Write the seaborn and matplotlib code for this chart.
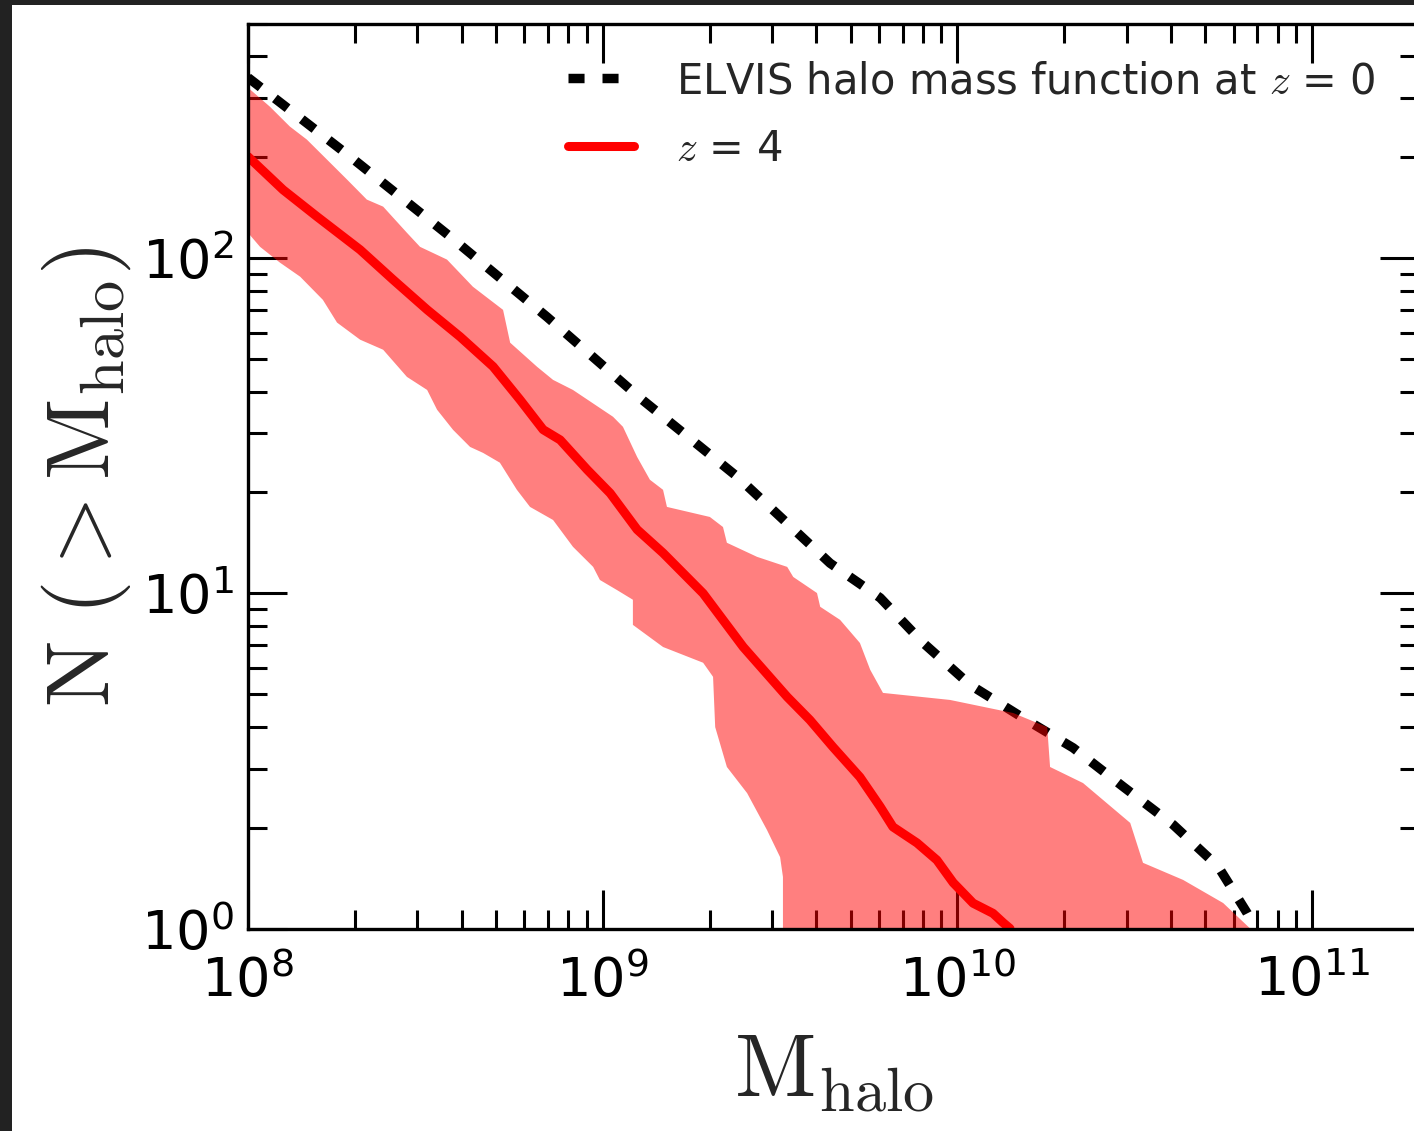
import numpy as np
import pandas as pd
import matplotlib
matplotlib.use("Agg")
import matplotlib.pyplot as plt
from matplotlib.patches import Rectangle
import seaborn as sns

# ELVIS cumulative halo mass function at z = 0 (log10 halo mass, N(>M))
elvis_logm = [8.000, 8.288, 8.570, 8.843, 9.105, 9.379, 9.641, 9.782, 9.903,
              10.036, 10.185, 10.326, 10.467, 10.608, 10.735, 10.817, 10.839]
elvis_n = [346, 201, 116, 66.8, 38.3, 22.3, 12.3, 9.70, 7.12,
           5.33, 4.25, 3.46, 2.65, 2.04, 1.53, 1.11, 1.00]

# z = 4 median
z4_logm = [8.000, 8.099, 8.195, 8.316, 8.409, 8.505, 8.598, 8.691, 8.767, 8.832,
           8.880, 8.956, 9.021, 9.097, 9.170, 9.283, 9.396, 9.520, 9.584, 9.649,
           9.725, 9.782, 9.818, 9.886, 9.942, 9.988, 10.044, 10.100, 10.129, 10.148]
z4_n = [201, 160, 133, 106, 86.3, 70.2, 58.3, 47.5, 37.8, 30.8,
        28.7, 23.4, 19.9, 15.5, 13.2, 10.0, 6.92, 4.91, 4.19, 3.48,
        2.83, 2.31, 2.01, 1.80, 1.60, 1.37, 1.19, 1.11, 1.04, 1.00]

# z = 4 scatter: upper envelope
upper_logm = [8.000, 8.062, 8.118, 8.166, 8.223, 8.279, 8.335, 8.381, 8.448, 8.485,
              8.561, 8.634, 8.682, 8.719, 8.739, 8.815, 8.860, 8.916, 9.029, 9.057,
              9.097, 9.133, 9.170, 9.181, 9.302, 9.339, 9.350, 9.435, 9.520, 9.537,
              9.604, 9.613, 9.669, 9.725, 9.754, 9.790, 9.979, 10.157, 10.253, 10.261,
              10.354, 10.487, 10.523, 10.636, 10.749, 10.825]
upper_logn = [2.509, 2.452, 2.393, 2.354, 2.294, 2.235, 2.175, 2.154, 2.076, 2.034,
              1.996, 1.915, 1.876, 1.846, 1.748, 1.676, 1.637, 1.607, 1.527, 1.497,
              1.407, 1.339, 1.309, 1.258, 1.228, 1.198, 1.151, 1.109, 1.079, 1.049,
              1.001, 0.960, 0.921, 0.852, 0.772, 0.703, 0.682, 0.643, 0.601, 0.482,
              0.434, 0.315, 0.196, 0.145, 0.076, 0.000]

# z = 4 scatter: lower envelope
lower_logm = [8.000, 8.034, 8.090, 8.147, 8.211, 8.251, 8.316, 8.381, 8.448, 8.505,
              8.533, 8.578, 8.626, 8.663, 8.710, 8.758, 8.795, 8.860, 8.916, 8.973,
              8.992, 9.040, 9.085, 9.085, 9.170, 9.283, 9.311, 9.317, 9.350, 9.407,
              9.463, 9.500, 9.508, 9.508]
lower_logn = [2.076, 2.034, 1.987, 1.945, 1.876, 1.808, 1.757, 1.727, 1.646, 1.607,
              1.548, 1.488, 1.437, 1.419, 1.390, 1.309, 1.258, 1.219, 1.139, 1.079,
              1.040, 1.010, 0.981, 0.906, 0.840, 0.793, 0.751, 0.601, 0.482, 0.404,
              0.294, 0.213, 0.154, 0.000]

sns.set_style("ticks")
plt.rcParams["font.family"] = ["DejaVu Sans"]
plt.rcParams["mathtext.fontset"] = "cm"

fig = plt.figure(figsize=(14.14, 11.31), dpi=100, facecolor="white")
ax = fig.add_axes([248 / 1414, 1 - 928.5 / 1131, (1419 - 248) / 1414, (928.5 - 24) / 1131])
ax.set_xscale("log")
ax.set_yscale("log")

# Dark frame along the left and top edges
fig.patches.append(Rectangle((0, 0), 12 / 1414, 1, transform=fig.transFigure,
                             facecolor="#222222", edgecolor="none", zorder=10))
fig.patches.append(Rectangle((0, 1 - 5 / 1131), 1, 5 / 1131, transform=fig.transFigure,
                             facecolor="#222222", edgecolor="none", zorder=10))

elvis = pd.DataFrame({"mass": 10 ** np.array(elvis_logm), "n": elvis_n})
z4 = pd.DataFrame({"mass": 10 ** np.array(z4_logm), "n": z4_n})

sns.lineplot(data=elvis, x="mass", y="n", ax=ax, color="black", lw=6.8,
             estimator=None, sort=False, zorder=2,
             linestyle=(0, (1.7, 1.9)), dash_capstyle="butt",
             label=r"ELVIS halo mass function at $z$ = 0")

poly_m = np.concatenate([10 ** np.array(upper_logm), 10 ** np.array(lower_logm)[::-1]])
poly_n = np.concatenate([10 ** np.array(upper_logn), 10 ** np.array(lower_logn)[::-1]])
ax.fill(poly_m, poly_n, color="red", alpha=0.5, lw=0, zorder=2.2)

sns.lineplot(data=z4, x="mass", y="n", ax=ax, color="red", lw=6.5,
             estimator=None, sort=False, zorder=3, label=r"$z$ = 4")

ax.set_xlim(1e8, 2e11)
ax.set_ylim(1, 500)

for side in ["top", "right", "bottom", "left"]:
    ax.spines[side].set_visible(True)
    ax.spines[side].set_linewidth(2.4)
    ax.spines[side].set_color("black")
    ax.spines[side].set_zorder(4)

ax.tick_params(which="both", direction="in", top=True, right=True, colors="black")
ax.tick_params(which="major", length=28, width=2.2, labelsize=39)
ax.tick_params(axis="x", which="major", pad=19)
ax.tick_params(axis="y", which="major", pad=10)
ax.tick_params(which="minor", length=14, width=2.2)

ax.set_xlabel(r"$\mathrm{M_{halo}}$", fontsize=64, labelpad=14)
ax.set_ylabel(r"$\mathrm{N\ (>M_{halo})}$", fontsize=64, labelpad=6)

leg = ax.legend(loc="upper right", bbox_to_anchor=(0.995, 1.0016), frameon=False,
                fontsize=30, handlelength=1.6, handletextpad=1.0, labelspacing=0.62)

fig.savefig("out.png", dpi=100, facecolor=fig.get_facecolor())
